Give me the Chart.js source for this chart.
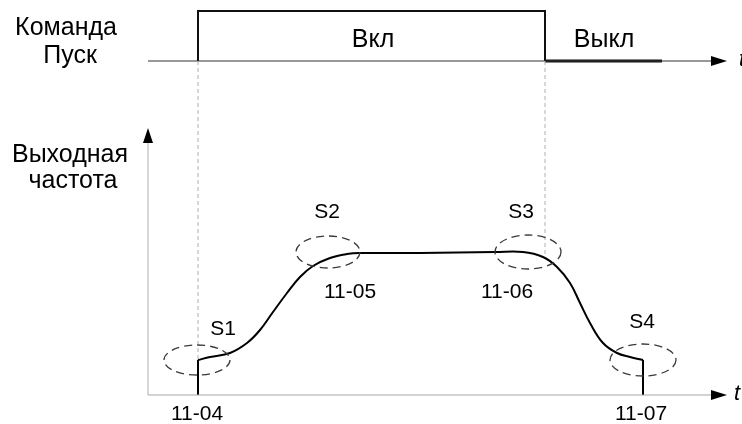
<!DOCTYPE html>
<html>
<head>
<meta charset="utf-8">
<script src="https://cdn.jsdelivr.net/npm/chart.js@4"></script>
<style>
  html, body { margin: 0; padding: 0; background: #fff; }
  #wrap { width: 742px; height: 424px; }
</style>
</head>
<body>
<div id="wrap"><canvas id="chartDiagrama" width="742" height="424"></canvas></div>
<script>
// единицы: время t от оси частоты, частота f от оси времени (1 ед. = 1 px)
const tiempoSubida = [50, 62, 82, 99, 112, 125, 139, 152, 165, 182, 199, 212, 272, 347];
const freqSubida   = [35, 38, 42, 52, 65, 83, 102, 118, 129, 137, 141, 142, 142, 143];
const tiempoBajada = [347, 375, 395, 409, 422, 432, 442, 455, 469, 482, 495];
const freqBajada   = [143, 143, 138, 128, 112, 92, 72, 52, 42, 38, 35];

const tiempoInicio = 50;   // 11-04
const tiempoFin = 495;     // 11-07
const tiempoStop = 397;    // команда выкл
const nivelArranque = 35;

const pulsoT = [50, 50, 397, 397];
const pulsoF = [334, 384, 384, 334];
const apagadoT = [397, 514];
const apagadoF = [334, 334];
const baseT = [0, 566];
const baseF = [334, 334];

const ejeT = [0, 566];
const ejeF = [0, 252];

const etiquetasCurva = ['S1', 'S2', 'S3', 'S4'];
const parametros = ['11-04', '11-05', '11-06', '11-07'];
const textoPulso = ['Вкл', 'Выкл'];
const textoComando = ['Команда', 'Пуск'];
const textoFreq = ['Выходная', 'частота'];

function puntos(ts, fs) {
    return ts.map((t, i) => ({ x: t, y: fs[i] }));
}

function linea(ts, fs, color, ancho, extra) {
    return Object.assign({
        data: puntos(ts, fs),
        showLine: true,
        borderColor: color,
        borderWidth: ancho,
        pointRadius: 0,
        tension: 0,
        fill: false
    }, extra || {});
}

const elipses = [
    { x: 49, y: 35, rx: 33, ry: 15 },
    { x: 180, y: 143, rx: 32, ry: 16 },
    { x: 380, y: 143, rx: 33, ry: 17 },
    { x: 495, y: 35, rx: 33, ry: 16 }
];

// базовые линии подписей (alphabetic)
const posEtiquetas = [
    { x: 75, y: 60 }, { x: 179, y: 177 }, { x: 373, y: 177 }, { x: 494, y: 67 }
];
const posParametros = [
    { x: 49, y: -25 }, { x: 202, y: 97 }, { x: 359, y: 97 }, { x: 493, y: -25 }
];

const anotaciones = {
    id: 'anotaciones',
    afterDatasetsDraw(chart) {
        const ctx = chart.ctx;
        const sx = chart.scales.x, sy = chart.scales.y;
        const px = v => sx.getPixelForValue(v);
        const py = v => sy.getPixelForValue(v);

        ctx.save();
        // эллипсы S1..S4
        ctx.setLineDash([8, 5]);
        ctx.lineWidth = 1.3;
        ctx.strokeStyle = '#3a3a3a';
        elipses.forEach(e => {
            ctx.beginPath();
            ctx.ellipse(px(e.x), py(e.y), e.rx, e.ry, 0, 0, Math.PI * 2);
            ctx.stroke();
        });
        ctx.setLineDash([]);

        // стрелки
        ctx.fillStyle = '#000';
        const flecha = (x, y, dir) => {
            ctx.beginPath();
            if (dir === 'r') {
                ctx.moveTo(x, y);
                ctx.lineTo(x - 16, y - 5);
                ctx.lineTo(x - 16, y + 5);
            } else {
                ctx.moveTo(x, y);
                ctx.lineTo(x - 5, y + 15);
                ctx.lineTo(x + 5, y + 15);
            }
            ctx.closePath();
            ctx.fill();
        };
        flecha(px(baseT[1]) + 13, py(baseF[1]), 'r');
        flecha(px(ejeT[1]) + 13, py(0), 'r');
        flecha(px(0), py(ejeF[1]) - 15, 'u');

        // тексты
        ctx.fillStyle = '#000';
        ctx.textAlign = 'center';
        ctx.textBaseline = 'alphabetic';
        ctx.font = '21px "Liberation Sans", Arial, sans-serif';
        etiquetasCurva.forEach((s, i) => ctx.fillText(s, px(posEtiquetas[i].x), py(posEtiquetas[i].y)));
        parametros.forEach((s, i) => ctx.fillText(s, px(posParametros[i].x), py(posParametros[i].y)));
        ctx.font = '25px "Liberation Sans", Arial, sans-serif';
        ctx.fillText(textoPulso[0], px(225), py(348));
        ctx.fillText(textoPulso[1], px(456), py(348));
        ctx.fillText(textoComando[0], 66, 35);
        ctx.fillText(textoComando[1], 70, 63);
        ctx.fillText(textoFreq[0], 70, 162);
        ctx.fillText(textoFreq[1], 73, 188);
        ctx.font = 'italic 22px "Liberation Sans", Arial, sans-serif';
        ctx.textAlign = 'left';
        ctx.fillText('t', 734, py(-5));
        ctx.fillText('t', 739, py(baseF[1] - 5));
        ctx.restore();
    }
};

new Chart(document.getElementById('chartDiagrama'), {
    type: 'scatter',
    data: {
        datasets: [
            linea([tiempoInicio, tiempoInicio], [334, nivelArranque], '#b0b0b0', 1, { borderDash: [4, 3] }),
            linea([tiempoStop, tiempoStop], [334, 140], '#b0b0b0', 1, { borderDash: [4, 3] }),
            linea(ejeT, [0, 0], '#a8a8a8', 1.2),
            linea([0, 0], ejeF, '#bdbdbd', 1.2),
            linea(baseT, baseF, '#333', 1),
            linea(pulsoT, pulsoF, '#111', 2),
            linea(apagadoT, apagadoF, '#111', 3),
            linea([tiempoInicio, tiempoInicio], [0, nivelArranque], '#000', 2),
            linea([tiempoFin, tiempoFin], [0, nivelArranque], '#000', 2),
            linea(tiempoSubida, freqSubida, '#000', 2, { tension: 0.4 }),
            linea(tiempoBajada, freqBajada, '#000', 2, { tension: 0.4 })
        ]
    },
    options: {
        responsive: false,
        animation: false,
        layout: { padding: 0 },
        plugins: { legend: { display: false }, tooltip: { enabled: false } },
        scales: {
            x: { type: 'linear', min: -148, max: 594, display: false },
            y: { type: 'linear', min: -29, max: 395, display: false }
        }
    },
    plugins: [anotaciones]
});
</script>
</body>
</html>
